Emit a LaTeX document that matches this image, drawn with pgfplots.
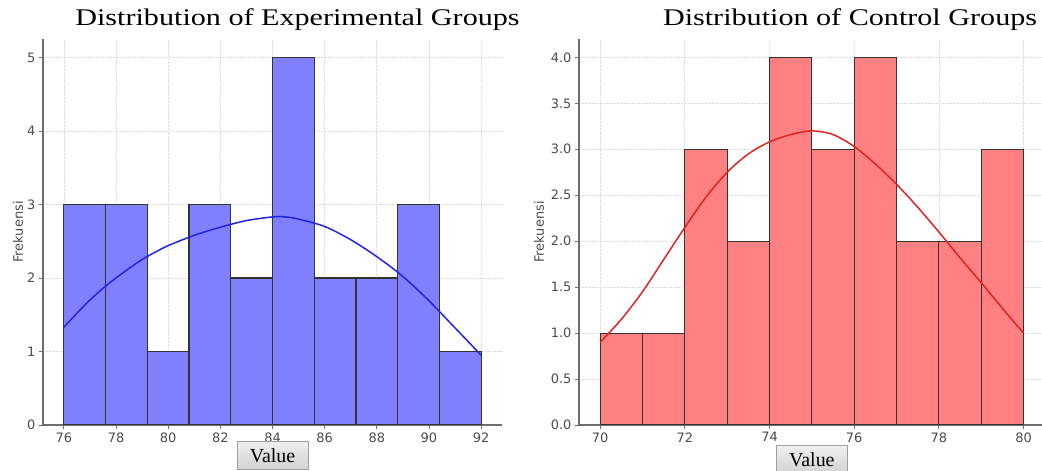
\documentclass[border=0pt]{standalone}
\usepackage{pgfplots}
\pgfplotsset{compat=1.18}
\usepackage{fontspec}
\setmainfont{Liberation Serif}
\newfontfamily\dejavu{DejaVu Sans}
\definecolor{hblue}{RGB}{128,128,255}
\definecolor{hred}{RGB}{255,128,128}
\definecolor{kblue}{RGB}{35,35,225}
\definecolor{kred}{RGB}{225,35,35}
\definecolor{gridc}{RGB}{222,222,222}
\definecolor{spine}{RGB}{110,110,110}
\definecolor{tickc}{RGB}{75,75,75}
\pgfplotsset{
 hist/.style={
  scale only axis, height=386bp, ymin=0,
  axis x line*=bottom, axis y line*=left,
  axis line style={spine, line width=1.2bp},
  grid=major, grid style={gridc, densely dotted, line width=0.7bp},
  tick style={spine, line width=0.8bp},
  major tick length=4bp,
  tick align=outside,
  ticklabel style={font=\dejavu\fontsize{13}{13}\selectfont, text=tickc},
  /pgf/number format/assume math mode=true,
  ylabel style={font=\dejavu\fontsize{13}{13}\selectfont, text=tickc, anchor=center},
  xlabel style={font=\fontsize{20}{20}\selectfont, draw=gray!75, top color=gray!12, bottom color=gray!35,
     inner xsep=13bp, inner ysep=7bp, anchor=north},
  title style={font=\fontsize{24}{24}\selectfont, anchor=base, xscale=1.26},
 }
}
\begin{document}
\begin{tikzpicture}
\path[use as bounding box] (0,0) rectangle (1042bp,471bp);
\begin{axis}[hist, at={(43bp,46bp)}, anchor=south west, width=459bp,
  xmin=75.2, xmax=92.8, ymax=5.25,
  xtick={76,78,...,92}, ytick={0,1,2,3,4,5},
  xlabel={Value}, xlabel style={at={(axis description cs:0.5,0)}, yshift=-16bp},
  ylabel={Frekuensi}, ylabel style={at={(axis description cs:-0.0545,0.5)}},
  title={Distribution of Experimental Groups},
  title style={at={(axis description cs:0.5545,1)}, yshift=8bp}]
\addplot[ybar interval, fill=hblue, draw=black!80, line width=1.1bp] coordinates {
 (76,3) (77.6,3) (79.2,1) (80.8,3) (82.4,2) (84,5) (85.6,2) (87.2,2) (88.8,3) (90.4,1) (92,0)};
\addplot[kblue, line width=1.5bp, smooth] coordinates {
 (76,1.33) (76.5,1.52) (77,1.70) (77.5,1.86) (78,2.00) (78.5,2.13) (79,2.25) (79.5,2.35)
 (80,2.44) (81,2.58) (82,2.69) (83,2.78) (84,2.83) (84.5,2.83) (85,2.80) (86,2.70)
 (87,2.52) (88,2.29) (89,2.02) (90,1.69) (91,1.32) (92,0.95)};
\end{axis}
\begin{axis}[hist, at={(579bp,46bp)}, anchor=south west, width=465.7bp,
  xmin=69.5, xmax=80.5, ymax=4.2,
  xtick={70,72,...,80}, ytick={0,0.5,...,4},
  yticklabel style={/pgf/number format/.cd, fixed, fixed zerofill, precision=1},
  xlabel={Value}, xlabel style={at={(axis description cs:0.5,0)}, yshift=-20bp},
  ylabel={Frekuensi}, ylabel style={at={(axis description cs:-0.0859,0.5)}},
  title={Distribution of Control Groups},
  title style={at={(axis description cs:0.582,1)}, yshift=8bp}]
\addplot[ybar interval, fill=hred, draw=black!80, line width=1.1bp] coordinates {
 (70,1) (71,1) (72,3) (73,2) (74,4) (75,3) (76,4) (77,2) (78,2) (79,3) (80,0)};
\addplot[kred, line width=1.5bp, smooth] coordinates {
 (70,0.90) (70.5,1.15) (71,1.45) (71.5,1.80) (72,2.15) (72.5,2.48) (73,2.75) (73.5,2.95)
 (74,3.08) (74.5,3.16) (75,3.20) (75.5,3.16) (76,3.03) (76.5,2.84) (77,2.62) (77.5,2.37)
 (78,2.10) (78.5,1.82) (79,1.55) (79.5,1.27) (80,1.00)};
\end{axis}
\end{tikzpicture}
\end{document}
